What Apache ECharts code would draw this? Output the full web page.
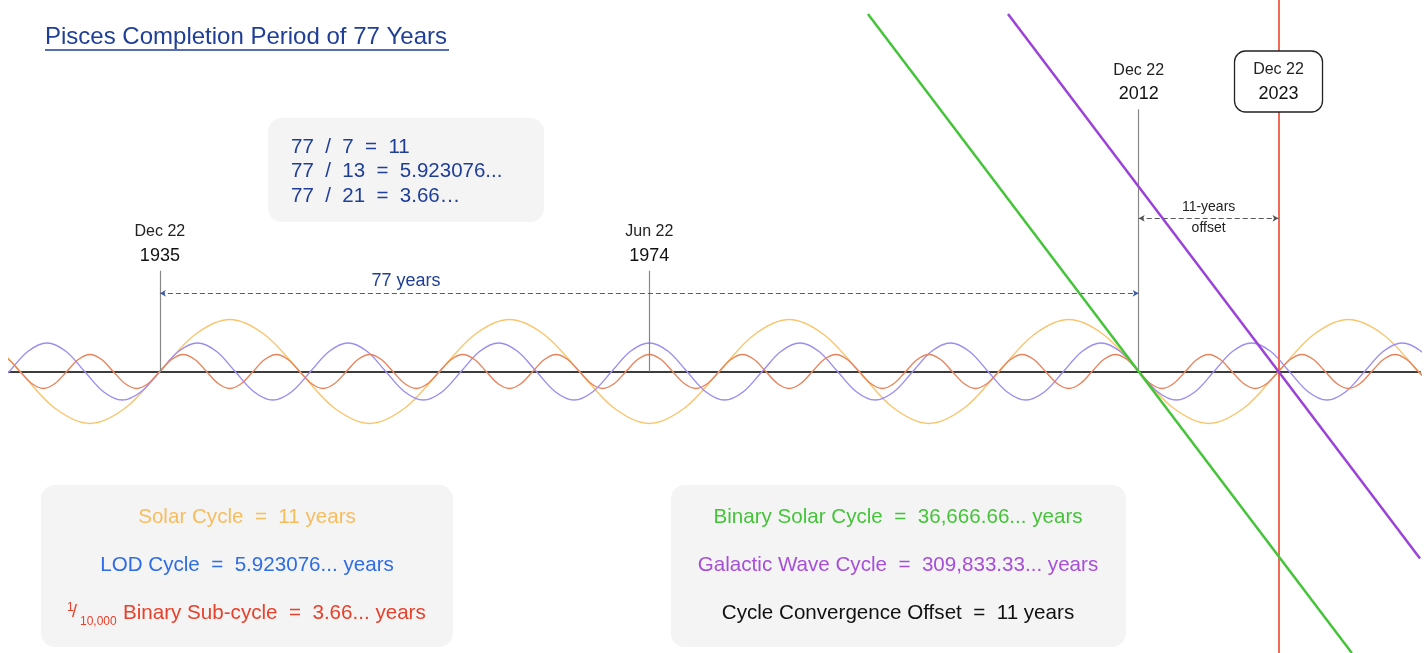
<!DOCTYPE html>
<html><head><meta charset="utf-8">
<script src="https://cdn.jsdelivr.net/npm/echarts@6/dist/echarts.min.js"></script>
<style>html,body{margin:0;padding:0;background:#fff}#c{width:1428px;height:653px}</style>
</head><body><div id="c"></div>
<script>
// ---- data (years on x, wave value on y), read at eighth-period steps ----
const solarCycle = [
  [1919.47, 52], [1922.22, 36.8], [1924.97, 0], [1927.72, -36.8], [1930.47, -52], [1933.22, -36.8],
  [1935.97, 0], [1938.72, 36.8], [1941.47, 52], [1944.22, 36.8], [1946.97, 0], [1949.72, -36.8],
  [1952.47, -52], [1955.22, -36.8], [1957.97, 0], [1960.72, 36.8], [1963.47, 52], [1966.22, 36.8],
  [1968.97, 0], [1971.72, -36.8], [1974.47, -52], [1977.22, -36.8], [1979.97, 0], [1982.72, 36.8],
  [1985.47, 52], [1988.22, 36.8], [1990.97, 0], [1993.72, -36.8], [1996.47, -52], [1999.22, -36.8],
  [2001.97, 0], [2004.72, 36.8], [2007.47, 52], [2010.22, 36.8], [2012.97, 0], [2015.72, -36.8],
  [2018.47, -52], [2021.22, -36.8], [2023.97, 0], [2026.72, 36.8], [2029.47, 52], [2032.22, 36.8],
  [2034.97, 0], [2037.72, -36.8]
];
const lodCycle = [
  [1922.64, -20.2], [1924.12, 0], [1925.60, 20.2], [1927.09, 28.5], [1928.57, 20.2], [1930.05, 0],
  [1931.53, -20.2], [1933.01, -28.5], [1934.49, -20.2], [1935.97, 0], [1937.45, 20.2], [1938.93, 28.5],
  [1940.41, 20.2], [1941.89, 0], [1943.37, -20.2], [1944.85, -28.5], [1946.34, -20.2], [1947.82, 0],
  [1949.30, 20.2], [1950.78, 28.5], [1952.26, 20.2], [1953.74, 0], [1955.22, -20.2], [1956.70, -28.5],
  [1958.18, -20.2], [1959.66, 0], [1961.14, 20.2], [1962.62, 28.5], [1964.10, 20.2], [1965.59, 0],
  [1967.07, -20.2], [1968.55, -28.5], [1970.03, -20.2], [1971.51, 0], [1972.99, 20.2], [1974.47, 28.5],
  [1975.95, 20.2], [1977.43, 0], [1978.91, -20.2], [1980.39, -28.5], [1981.87, -20.2], [1983.35, 0],
  [1984.84, 20.2], [1986.32, 28.5], [1987.80, 20.2], [1989.28, 0], [1990.76, -20.2], [1992.24, -28.5],
  [1993.72, -20.2], [1995.20, 0], [1996.68, 20.2], [1998.16, 28.5], [1999.64, 20.2], [2001.12, 0],
  [2002.60, -20.2], [2004.09, -28.5], [2005.57, -20.2], [2007.05, 0], [2008.53, 20.2], [2010.01, 28.5],
  [2011.49, 20.2], [2012.97, 0], [2014.45, -20.2], [2015.93, -28.5], [2017.41, -20.2], [2018.89, 0],
  [2020.37, 20.2], [2021.85, 28.5], [2023.34, 20.2], [2024.82, 0], [2026.30, -20.2], [2027.78, -28.5],
  [2029.26, -20.2], [2030.74, 0], [2032.22, 20.2], [2033.70, 28.5], [2035.18, 20.2], [2036.66, 0]
];
const binarySubCycle = [
  [1923.14, 17], [1924.05, 12], [1924.97, 0], [1925.89, -12], [1926.80, -17], [1927.72, -12],
  [1928.64, 0], [1929.55, 12], [1930.47, 17], [1931.39, 12], [1932.30, 0], [1933.22, -12],
  [1934.14, -17], [1935.05, -12], [1935.97, 0], [1936.89, 12], [1937.80, 17], [1938.72, 12],
  [1939.64, 0], [1940.55, -12], [1941.47, -17], [1942.39, -12], [1943.30, 0], [1944.22, 12],
  [1945.14, 17], [1946.05, 12], [1946.97, 0], [1947.89, -12], [1948.80, -17], [1949.72, -12],
  [1950.64, 0], [1951.55, 12], [1952.47, 17], [1953.39, 12], [1954.30, 0], [1955.22, -12],
  [1956.14, -17], [1957.05, -12], [1957.97, 0], [1958.89, 12], [1959.80, 17], [1960.72, 12],
  [1961.64, 0], [1962.55, -12], [1963.47, -17], [1964.39, -12], [1965.30, 0], [1966.22, 12],
  [1967.14, 17], [1968.05, 12], [1968.97, 0], [1969.89, -12], [1970.80, -17], [1971.72, -12],
  [1972.64, 0], [1973.55, 12], [1974.47, 17], [1975.39, 12], [1976.30, 0], [1977.22, -12],
  [1978.14, -17], [1979.05, -12], [1979.97, 0], [1980.89, 12], [1981.80, 17], [1982.72, 12],
  [1983.64, 0], [1984.55, -12], [1985.47, -17], [1986.39, -12], [1987.30, 0], [1988.22, 12],
  [1989.14, 17], [1990.05, 12], [1990.97, 0], [1991.89, -12], [1992.80, -17], [1993.72, -12],
  [1994.64, 0], [1995.55, 12], [1996.47, 17], [1997.39, 12], [1998.30, 0], [1999.22, -12],
  [2000.14, -17], [2001.05, -12], [2001.97, 0], [2002.89, 12], [2003.80, 17], [2004.72, 12],
  [2005.64, 0], [2006.55, -12], [2007.47, -17], [2008.39, -12], [2009.30, 0], [2010.22, 12],
  [2011.14, 17], [2012.05, 12], [2012.97, 0], [2013.89, -12], [2014.80, -17], [2015.72, -12],
  [2016.64, 0], [2017.55, 12], [2018.47, 17], [2019.39, 12], [2020.30, 0], [2021.22, -12],
  [2022.14, -17], [2023.05, -12], [2023.97, 0], [2024.89, 12], [2025.80, 17], [2026.72, 12],
  [2027.64, 0], [2028.55, -12], [2029.47, -17], [2030.39, -12], [2031.30, 0], [2032.22, 12],
  [2033.14, 17], [2034.05, 12], [2034.97, 0], [2035.89, -12]
];
const binarySolarLine = [[1991.67, 357.5], [2029.74, -281.5]];
const galacticWaveLine = [[2002.69, 357.5], [2035.10, -187]];

const markerYears = [1935.97, 1974.47, 2012.97];
const markerTops = [100.8, 100.8, 262.2];
const markerDayLabels = ['Dec 22', 'Jun 22', 'Dec 22'];
const markerYearLabels = ['1935', '1974', '2012'];
const convergenceYear = 2023.97;
const convergenceDayLabel = 'Dec 22';
const convergenceYearLabel = '2023';
const spanArrowLevel = 78.2;
const offsetArrowLevel = 153.2;

const titleText = 'Pisces Completion Period of 77 Years';
const formulaLines = ['77  /  7  =  11', '77  /  13  =  5.923076...', '77  /  21  =  3.66\u2026'];
const leftBoxLines = ['Solar Cycle  =  11 years', 'LOD Cycle  =  5.923076... years', 'Binary Sub-cycle  =  3.66... years'];
const rightBoxLines = ['Binary Solar Cycle  =  36,666.66... years', 'Galactic Wave Cycle  =  309,833.33... years', 'Cycle Convergence Offset  =  11 years'];

// ---- chart ----
const FONT = '"Liberation Sans", Arial, sans-serif';
const chart = echarts.init(document.getElementById('c'), null, { renderer: 'canvas' });

const markerPairs = markerYears.map((x, i) => [
  { coord: [x, 0] }, { coord: [x, markerTops[i]] }
]);

chart.setOption({
  animation: false,
  backgroundColor: '#ffffff',
  grid: { left: 9, right: 8, top: 0, bottom: 0 },
  xAxis: {
    type: 'value', min: 1924.1, max: 2035.1,
    axisLine: { show: true, onZero: true, lineStyle: { color: '#3c3c3c', width: 2 } },
    axisTick: { show: false }, axisLabel: { show: false }, splitLine: { show: false }
  },
  yAxis: { type: 'value', min: -281.5, max: 371.5, show: false },
  series: [
    { type: 'line', data: solarCycle, smooth: 0.34, showSymbol: false, silent: true,
      lineStyle: { color: '#f8c56c', width: 1.4 }, z: 3 },
    { type: 'line', data: lodCycle, smooth: 0.34, showSymbol: false, silent: true,
      lineStyle: { color: '#9d8df0', width: 1.4 }, z: 3 },
    { type: 'line', data: binarySubCycle, smooth: 0.34, showSymbol: false, silent: true,
      lineStyle: { color: '#e8845c', width: 1.4 }, z: 3 },
    { type: 'line', data: [], silent: true, z: 2,
      markLine: { silent: true, symbol: 'none', label: { show: false },
        lineStyle: { color: '#888888', width: 1.2, type: 'solid' },
        data: markerPairs } },
    { type: 'line', data: [], silent: true, z: 4,
      markLine: { silent: true, symbol: 'none', label: { show: false },
        lineStyle: { color: '#ef6b57', width: 2, type: 'solid' },
        data: [[{ coord: [convergenceYear, -281.5] }, { coord: [convergenceYear, 371.5] }]] } },
    { type: 'line', data: [], silent: true, z: 4,
      markLine: { silent: true, symbol: ['arrow', 'arrow'], symbolSize: [5, 6], label: { show: false },
        data: [
          [{ coord: [markerYears[0], spanArrowLevel], lineStyle: { color: '#3d5da8', width: 1, type: [5, 3] } },
           { coord: [markerYears[2], spanArrowLevel] }],
          [{ coord: [markerYears[2], offsetArrowLevel], lineStyle: { color: '#555555', width: 1, type: [5, 3] } },
           { coord: [convergenceYear, offsetArrowLevel] }]
        ] } },
    { type: 'line', data: binarySolarLine, showSymbol: false, silent: true,
      lineStyle: { color: '#45c43a', width: 2.5 }, z: 5 },
    { type: 'line', data: galacticWaveLine, showSymbol: false, silent: true,
      lineStyle: { color: '#9b42d8', width: 2.5 }, z: 5 }
  ]
});

function px(x, y) { return chart.convertToPixel({ gridIndex: 0 }, [x, y]); }
function txt(text, x, y, size, color, align) {
  return { type: 'text', z: 120, silent: true,
    style: { text: text, x: x, y: y, font: size + 'px ' + FONT, fill: color,
      textAlign: align || 'center', textVerticalAlign: 'middle' } };
}

const g = [];
// title
g.push(txt(titleText, 45, 37, 24, '#1f3e98', 'left'));
g.push({ type: 'line', z: 120, silent: true, shape: { x1: 45, y1: 50, x2: 449, y2: 50 }, style: { stroke: '#1f3e98', lineWidth: 1.5 } });

// formula box
g.push({ type: 'rect', z: 1, silent: true, shape: { x: 268, y: 118, width: 276, height: 104, r: 14 }, style: { fill: '#f4f4f4' } });
formulaLines.forEach((t, i) => g.push(txt(t, 291, 147 + i * 24.5, 20.5, '#1f3e98', 'left')));

// marker labels
markerYears.forEach((x, i) => {
  const p = px(x, markerTops[i]);
  g.push(txt(markerDayLabels[i], p[0], p[1] - 39, 16, '#222222'));
  g.push(txt(markerYearLabels[i], p[0], p[1] - 15, 18, '#111111'));
});
// 77 years
const sp = px(1951.3, spanArrowLevel);
g.push(txt('77 years', 406, sp[1] - 12, 18, '#1f3e98'));
// 11-years offset
const op = px((markerYears[2] + convergenceYear) / 2, offsetArrowLevel);
g.push(txt('11-years', op[0], op[1] - 11, 14, '#222222'));
g.push(txt('offset', op[0], op[1] + 10, 14, '#222222'));

// 2023 box
const cp = px(convergenceYear, 0);
g.push({ type: 'rect', z: 110, silent: true, shape: { x: cp[0] - 44, y: 51, width: 88, height: 61, r: 11 }, style: { fill: '#ffffff', stroke: '#222222', lineWidth: 1.3 } });
g.push(txt(convergenceDayLabel, cp[0], 70, 16, '#222222'));
g.push(txt(convergenceYearLabel, cp[0], 94, 18, '#111111'));

// bottom-left box
g.push({ type: 'rect', z: 1, silent: true, shape: { x: 41, y: 485, width: 412, height: 162, r: 14 }, style: { fill: '#f4f4f4' } });
g.push(txt(leftBoxLines[0], 247, 517, 20.6, '#f7bd5c'));
g.push(txt(leftBoxLines[1], 247, 565, 20.6, '#2e6be6'));
g.push(txt('1', 67, 608, 12, '#e8402a', 'left'));
g.push(txt('/', 72, 612, 18, '#e8402a', 'left'));
g.push(txt('10,000', 80, 622, 12, '#e8402a', 'left'));
g.push(txt(leftBoxLines[2], 123, 613, 20.6, '#e8402a', 'left'));

// bottom-right box
g.push({ type: 'rect', z: 1, silent: true, shape: { x: 671, y: 485, width: 455, height: 162, r: 14 }, style: { fill: '#f4f4f4' } });
g.push(txt(rightBoxLines[0], 898, 517, 20.6, '#45c43a'));
g.push(txt(rightBoxLines[1], 898, 565, 20.6, '#a64fd8'));
g.push(txt(rightBoxLines[2], 898, 613, 20.6, '#111111'));

chart.setOption({ graphic: { elements: g } });
</script>
</body></html>
